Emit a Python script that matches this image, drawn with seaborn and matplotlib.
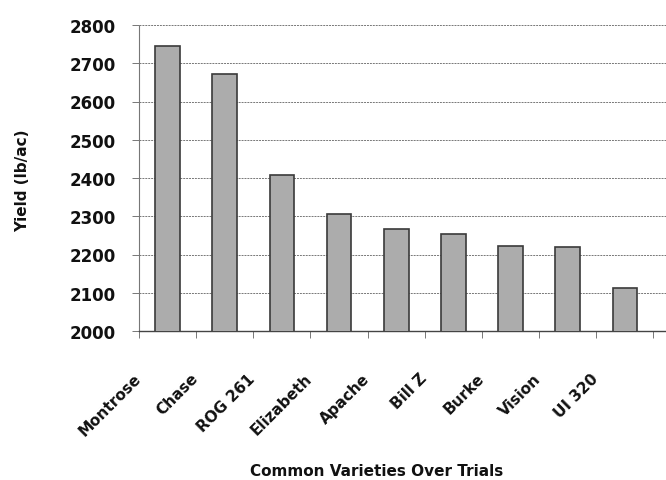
import matplotlib
matplotlib.use("Agg")
import matplotlib.pyplot as plt
import matplotlib.transforms as mtransforms
import seaborn as sns
import pandas as pd
import numpy as np

varieties = ["Montrose", "Chase", "ROG 261", "Elizabeth", "Apache", "Bill Z",
             "Burke", "Vision", "UI 320"]
yields = [2746, 2672, 2408, 2305, 2266, 2254, 2223, 2220, 2113]
y_ticks = [2000, 2100, 2200, 2300, 2400, 2500, 2600, 2700, 2800]

sns.set_theme(style="white")
plt.rcParams['font.family'] = ['DejaVu Sans']

df = pd.DataFrame({"Variety": varieties, "Yield": yields})

fig = plt.figure(figsize=(6.66, 4.81), dpi=100)
ax = fig.add_axes([139/666, 1 - 332/481, 1 - 139/666, (332 - 26)/481])

sns.barplot(data=df, x="Variety", y="Yield", color="#acacac", saturation=1,
            width=0.43, edgecolor="#3a3a3a", linewidth=1.2, ax=ax, zorder=3)

ax.set_ylim(2000, 2800)
ax.set_xlim(-0.5, 8.72)
ax.set_yticks(y_ticks)
ax.set_yticklabels([str(v) for v in y_ticks], fontsize=12, fontweight="bold", color="#111111")

ax.yaxis.grid(True, color="#777777", linestyle=(0, (2, 1)), linewidth=0.7, zorder=0)
ax.xaxis.grid(False)

for s in ["top", "right"]:
    ax.spines[s].set_visible(False)
ax.spines["left"].set_color("#777777")
ax.spines["left"].set_linestyle((0, (2, 1)))
ax.spines["left"].set_linewidth(0.8)
ax.spines["bottom"].set_color("#444444")
ax.spines["bottom"].set_linewidth(1.0)

ax.tick_params(axis="y", which="major", left=True, length=5, width=0.7,
               color="#777777", pad=12)
ax.set_xticks(range(len(varieties)))
ax.set_xticks(np.arange(-0.5, len(varieties), 1.0), minor=True)
ax.tick_params(axis="x", which="major", bottom=True, length=0, pad=7)
ax.tick_params(axis="x", which="minor", bottom=True, length=5, width=0.7,
               color="#777777", direction="out")
ax.set_xticklabels(varieties, rotation=45, ha="right", va="center",
                   rotation_mode="anchor", fontsize=11, fontweight="bold",
                   color="#111111")
offset = mtransforms.ScaledTranslation(-29/100, -35/100, fig.dpi_scale_trans)
for lbl in ax.get_xticklabels():
    lbl.set_transform(lbl.get_transform() + offset)

ax.set_xlabel("")
ax.set_ylabel("")
fig.text(377/666, 1 - 472/481, "Common Varieties Over Trials", ha="center",
         va="center", fontsize=11, fontweight="bold", color="#111111")
fig.text(23/666, 1 - 181/481, "Yield (lb/ac)", ha="center", va="center",
         rotation=90, fontsize=11, fontweight="bold", color="#111111")

fig.savefig("out.png", dpi=100, facecolor="white")
